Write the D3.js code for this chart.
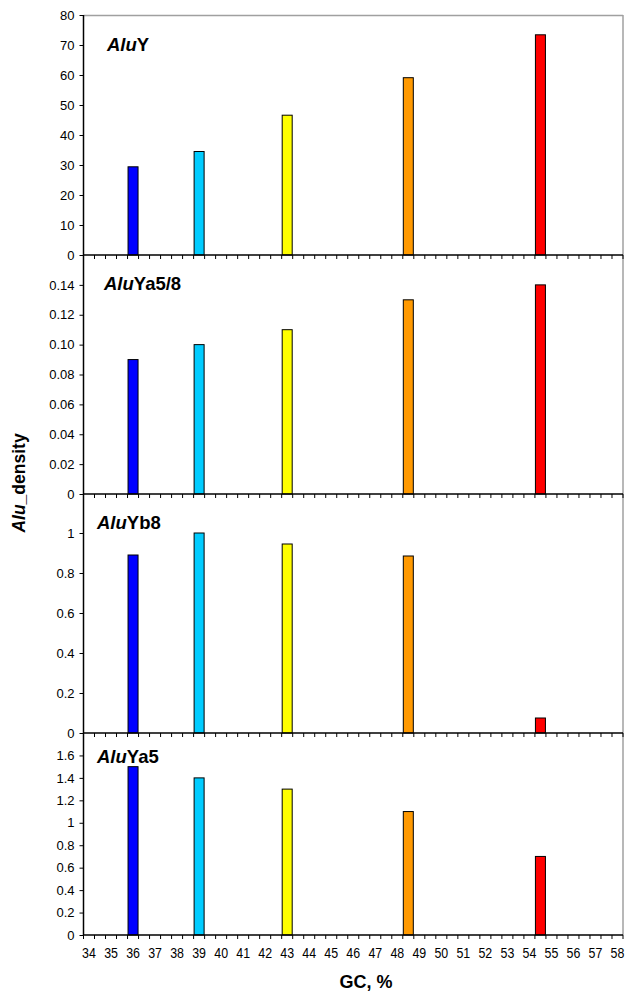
<!DOCTYPE html>
<html>
<head>
<meta charset="utf-8">
<script src="https://cdn.jsdelivr.net/npm/d3@7"></script>
<style>
  body { margin: 0; background: #fff; }
  text { font-family: "Liberation Sans", Arial, sans-serif; }
</style>
</head>
<body>
<div id="chart"></div>
<script>
// GC classes that carry a bar
var gcClasses = [36, 39, 43, 48.5, 54.5];
var barColors = ["#0000ff", "#00ccff", "#ffff00", "#ff9900", "#ff0000"];

// Alu density per subfamily
var aluY = [29.4, 34.5, 46.6, 59.1, 73.4];
var aluYa58 = [0.09, 0.10, 0.11, 0.13, 0.14];
var aluYb8 = [0.89, 1.0, 0.945, 0.885, 0.075];
var aluYa5 = [1.5, 1.4, 1.3, 1.1, 0.7];

// x tick labels (integer GC values)
var gcLabels = [34, 35, 36, 37, 38, 39, 40, 41, 42, 43, 44, 45, 46, 47, 48, 49, 50, 51, 52, 53, 54, 55, 56, 57, 58];

var width = 626, height = 992;
var left = 83.5, right = 623;

var svg = d3.select('#chart').append('svg')
    .attr('width', width)
    .attr('height', height);

// categories every 0.5 from 34 to 58, ticks between them
var x = d3.scaleLinear().domain([33.75, 58.25]).range([left, right]);
var tickBounds = d3.range(33.75, 58.26, 0.5);

var panels = [
    { name: 'Y', values: aluY, top: 15, bottom: 255, max: 80, ticks: d3.range(0, 81, 10), fmt: d3.format('d'), tx: 107, ty: 51 },
    { name: 'Ya5/8', values: aluYa58, top: 255, bottom: 494, max: 0.16, ticks: [0, 0.02, 0.04, 0.06, 0.08, 0.10, 0.12, 0.14], fmt: function(d) { return d === 0 ? '0' : d3.format('.2f')(d); }, tx: 104, ty: 290 },
    { name: 'Yb8', values: aluYb8, top: 494, bottom: 733, max: 1.195, ticks: [0, 0.2, 0.4, 0.6, 0.8, 1], fmt: function(d) { return String(d); }, tx: 97, ty: 529 },
    { name: 'Ya5', values: aluYa5, top: 733, bottom: 935, max: 1.8, ticks: [0, 0.2, 0.4, 0.6, 0.8, 1, 1.2, 1.4, 1.6], fmt: function(d) { return String(d); }, tx: 97, ty: 763 }
];

// frame lines (gray top and right)
svg.append('line')
    .attr('x1', left).attr('x2', right)
    .attr('y1', 15.5).attr('y2', 15.5)
    .attr('stroke', '#a0a0a0').attr('stroke-width', 1.5);
svg.append('line')
    .attr('x1', right).attr('x2', right)
    .attr('y1', 15).attr('y2', 935)
    .attr('stroke', '#a0a0a0').attr('stroke-width', 1.5);

panels.forEach(function(p, pi) {
    var y = d3.scaleLinear().domain([0, p.max]).range([p.bottom, p.top]);
    var g = svg.append('g');

    // bars
    g.selectAll('rect')
        .data(p.values)
        .enter().append('rect')
        .attr('x', function(d, i) { return x(gcClasses[i]) - 5; })
        .attr('width', 10)
        .attr('y', function(d) { return y(d); })
        .attr('height', function(d) { return p.bottom - y(d); })
        .attr('fill', function(d, i) { return barColors[i]; })
        .attr('stroke', '#000')
        .attr('stroke-width', 1);

    // y axis
    var yAxis = d3.axisLeft(y)
        .tickValues(p.ticks)
        .tickFormat(p.fmt)
        .tickSize(4)
        .tickPadding(5);
    var ya = g.append('g')
        .attr('transform', 'translate(' + left + ',0)')
        .call(yAxis);
    ya.select('.domain').attr('stroke', '#000').attr('stroke-width', 1.5)
        .attr('d', 'M0,' + p.top + 'V' + p.bottom);
    ya.selectAll('.tick line').attr('stroke', '#000');
    ya.selectAll('.tick text')
        .style('font-size', '13px')
        .attr('fill', '#000');

    // x axis at panel bottom
    var xa = g.append('g')
        .attr('transform', 'translate(0,' + p.bottom + ')');
    xa.append('line')
        .attr('x1', left).attr('x2', right)
        .attr('stroke', '#000').attr('stroke-width', 1.5);
    xa.selectAll('.xt')
        .data(tickBounds)
        .enter().append('line')
        .attr('class', 'xt')
        .attr('x1', function(d) { return x(d); })
        .attr('x2', function(d) { return x(d); })
        .attr('y1', 0).attr('y2', 4)
        .attr('stroke', '#000');

    if (pi === panels.length - 1) {
        // labels look condensed in the original, so squeeze them a bit
        xa.selectAll('.xl')
            .data(gcLabels)
            .enter().append('text')
            .attr('class', 'xl')
            .attr('transform', function(d) { return 'translate(' + x(d) + ',23) scale(0.8,1)'; })
            .attr('text-anchor', 'middle')
            .style('font-size', '15.5px')
            .text(function(d) { return d; });
    }

    // subfamily title
    var t = g.append('text')
        .attr('x', p.tx)
        .attr('y', p.ty)
        .style('font-size', '18.5px')
        .style('font-weight', 'bold');
    t.append('tspan').style('font-style', 'italic').text('Alu');
    t.append('tspan').text(p.name);
});

// axis titles
var yl = svg.append('text')
    .attr('transform', 'translate(25,483) rotate(-90)')
    .attr('text-anchor', 'middle')
    .style('font-size', '17.5px')
    .style('font-weight', 'bold');
yl.append('tspan').style('font-style', 'italic').text('Alu');
yl.append('tspan').text('_density');

svg.append('text')
    .attr('x', 366)
    .attr('y', 988)
    .attr('text-anchor', 'middle')
    .style('font-size', '18px')
    .style('font-weight', 'bold')
    .text('GC, %');
</script>
</body>
</html>
